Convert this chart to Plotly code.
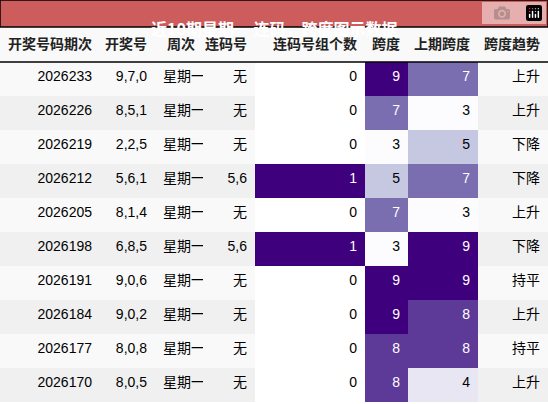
import plotly.graph_objects as go

issues = ["2026233","2026226","2026219","2026212","2026205","2026198","2026191","2026184","2026177","2026170"]
numbers = ["9,7,0","8,5,1","2,2,5","5,6,1","8,1,4","6,8,5","9,0,6","9,0,2","8,0,8","8,0,5"]
weekday = ["星期一"]*10
consec = ["无","无","无","5,6","无","5,6","无","无","无","无"]
consec_count = [0,0,0,1,0,1,0,0,0,0]
span = [9,7,3,5,7,3,9,9,8,8]
prev_span = [7,3,5,7,3,9,9,8,8,4]
trend = ["上升","上升","下降","下降","上升","下降","持平","上升","持平","上升"]
headers = ["开奖号码期次","开奖号","周次","连码号","连码号组个数","跨度","上期跨度","跨度趋势"]
title = "近10期星期一 连码，跨度图示数据"

span_col = {3:"#fcfbfd",4:"#e8e6f2",5:"#c6c7e1",7:"#7a6db0",8:"#5d3a97",9:"#3f007d"}
def sc(v): return span_col.get(v, "#ffffff")
def cc(v): return "#3f007d" if v >= 1 else "#ffffff"
def tc_span(v): return "#ffffff" if v >= 7 else "#000000"
def tc_cnt(v): return "#ffffff" if v >= 1 else "#000000"

band = ["#f9f9f9" if i % 2 == 0 else "#f0f0f0" for i in range(10)]
fills = [band, band, band, band,
         [cc(v) for v in consec_count], [sc(v) for v in span], [sc(v) for v in prev_span], band]
fcolors = [["#000"]*10]*4 + [[tc_cnt(v) for v in consec_count], [tc_span(v) for v in span],
           [tc_span(v) for v in prev_span], ["#000"]*10]

font = "Liberation Sans, Noto Sans CJK SC"
fig = go.Figure(go.Table(
    columnwidth=[100,55,48,52,110,43,70,70],
    header=dict(values=[f"<b>{h}</b>" for h in headers], height=34, align="right",
                fill_color="#f9f9f9", line=dict(width=0),
                font=dict(family=font, size=14, color="#222")),
    cells=dict(values=[issues, numbers, weekday, consec, consec_count, span, prev_span, trend],
               height=34, align=["right","right","left","right","right","right","right","right"],
               fill_color=fills, line=dict(width=0),
               font=dict(family=font, size=14, color=fcolors)),
    domain=dict(x=[0,1], y=[0, 1-28/404]),
))
fig.add_shape(type="rect", xref="paper", yref="paper", x0=0, x1=1, y0=1-27/404, y1=1,
              fillcolor="#cd5c5c", line=dict(color="#000", width=1.5))
fig.add_shape(type="line", xref="paper", yref="paper", x0=0, x1=1, y0=1-62/404, y1=1-62/404,
              line=dict(color="#000", width=1.5))
fig.add_annotation(text=f"<b>{title}</b>", xref="paper", yref="paper", x=0.5, y=1-13.5/404,
                   showarrow=False, font=dict(family="Noto Sans CJK SC", size=16, color="#fff"))
fig.update_layout(width=548, height=404, margin=dict(l=0, r=0, t=0, b=0),
                  paper_bgcolor="#fff")
fig.write_html("out.html",
               post_script="document.body.style.margin='0';document.body.style.overflow='hidden';")
